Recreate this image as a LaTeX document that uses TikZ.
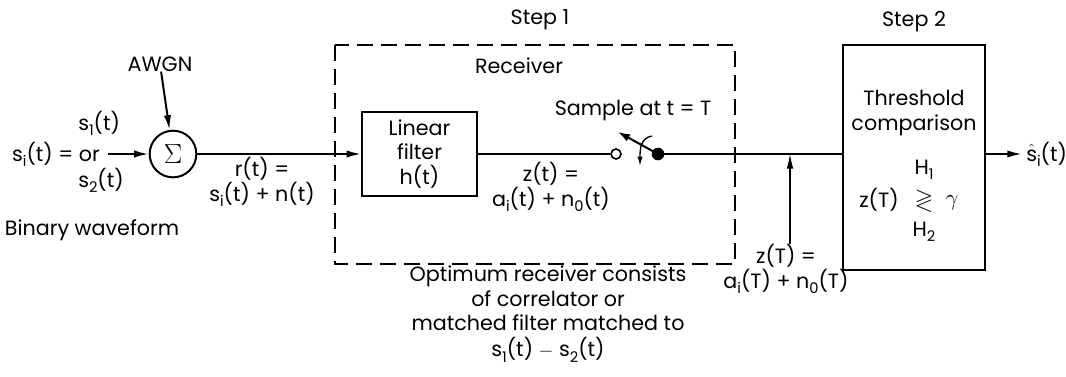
\documentclass[tikz,border=0pt]{standalone}
\usepackage{fontspec}
\usepackage{amssymb}
\setmainfont{Poppins}
\usetikzlibrary{arrows.meta}
\newcommand{\lo}[1]{\raisebox{-0.45ex}{\fontsize{11}{12}\selectfont #1}}
\tikzset{
  wire/.style={line width=1.5pt},
  arr/.style={wire, -{Latex[length=11pt,width=5.5pt]}},
  blockbox/.style={draw, line width=1.5pt, align=center, inner sep=0pt},
  lbl/.style={align=center, inner sep=0pt},
}
\begin{document}
\begin{tikzpicture}[x=0.75pt, y=-0.75pt, font=\fontsize{15.5}{18.5}\selectfont]
\useasboundingbox (0,0) rectangle (1066,376);
\draw[line width=1.1pt, dash pattern=on 12pt off 6pt] (335,45) rectangle (735,264);
\node[lbl] (step1) at (540,20) {Step 1};
\node[lbl] (step2) at (914,22) {Step 2};
\node[lbl] (recv) at (519,66) {Receiver};
\node[circle, draw, line width=1.5pt, minimum size=35pt, inner sep=0pt] (sum) at (173,154) {\fontsize{21}{21}\selectfont$\Sigma$};
\node[lbl] (awgn) at (160,64) {AWGN};
\node[lbl, anchor=east] (si) at (100,154) {s\lo{i}(t) = or};
\node[lbl, anchor=west] (s1) at (78,123) {s\lo{1}(t)};
\node[lbl, anchor=west] (s2) at (78,180) {s\lo{2}(t)};
\coordinate (src) at (108,154);
\node[lbl] (binwf) at (92,230) {Binary waveform};
\node[blockbox, minimum width=86pt, minimum height=63pt] (filt) at (419.5,154) {Linear\\filter\\h(t)};
\node[lbl] (rlab) at (262,182) {r(t) =\\s\lo{i}(t) + n(t)};
\node[circle, draw, line width=1.2pt, fill=white, minimum size=7.5pt, inner sep=0pt] (oc) at (616,154) {};
\node[circle, fill=black, minimum size=9.5pt, inner sep=0pt] (dot) at (658,154) {};
\coordinate (blade) at (618,132);
\coordinate (swa) at (652,136);
\coordinate (swb) at (640,166);
\node[lbl] (zlab) at (551,187) {z(t) =\\a\lo{i}(t) + n\lo{0}(t)};
\node[lbl] (samp) at (633,111) {Sample at t = T};
\node[blockbox, minimum width=106.5pt, minimum height=169pt] (thr) at (914,157.5) {};
\node[lbl] (thrlab) at (914,113) {Threshold\\comparison};
\node[lbl] (h1) at (924,170) {H\lo{1}};
\node[lbl] (zT) at (879,200) {z(T)};
\node[lbl] (gl) at (924,201) {\fontsize{18}{18}\selectfont$\gtrless$};
\node[lbl] (gam) at (952,203) {\fontsize{19}{19}\selectfont$\gamma$};
\node[lbl] (h2) at (924,232) {H\lo{2}};
\node[lbl, anchor=west] (shat) at (1026,154) {$\hat{\mbox{s}}$\lo{i}(t)};
\coordinate (tap) at (790,154);
\node[lbl] (ztlab) at (786,269) {z(T) =\\a\lo{i}(T) + n\lo{0}(T)};
\node[lbl] (optim) at (548,314) {Optimum receiver consists\\of correlator or\\matched filter matched to\\[1pt]s\lo{1}(t) $-$ s\lo{2}(t)};
\draw[arr] (awgn) -- (sum);
\draw[arr] (src) -- (sum);
\draw[arr] (sum) -- (filt);
\draw[wire] (filt) -- (oc);
\draw[wire, -{Latex[length=9pt,width=6pt]}] (dot.center) -- (blade);
\draw[line width=1pt, -{Latex[length=7pt,width=4pt]}] (swa) .. controls (640,138) and (640,150) .. (swb);
\draw[wire] (dot.center) -- (dot -| thr.west);
\draw[arr] (dot -| thr.east) -- ([xshift=-3pt]shat.west);
\draw[line width=0.9pt, -{Latex[length=11pt,width=5pt]}] (ztlab.north -| tap) -- (tap);
\end{tikzpicture}
\end{document}
